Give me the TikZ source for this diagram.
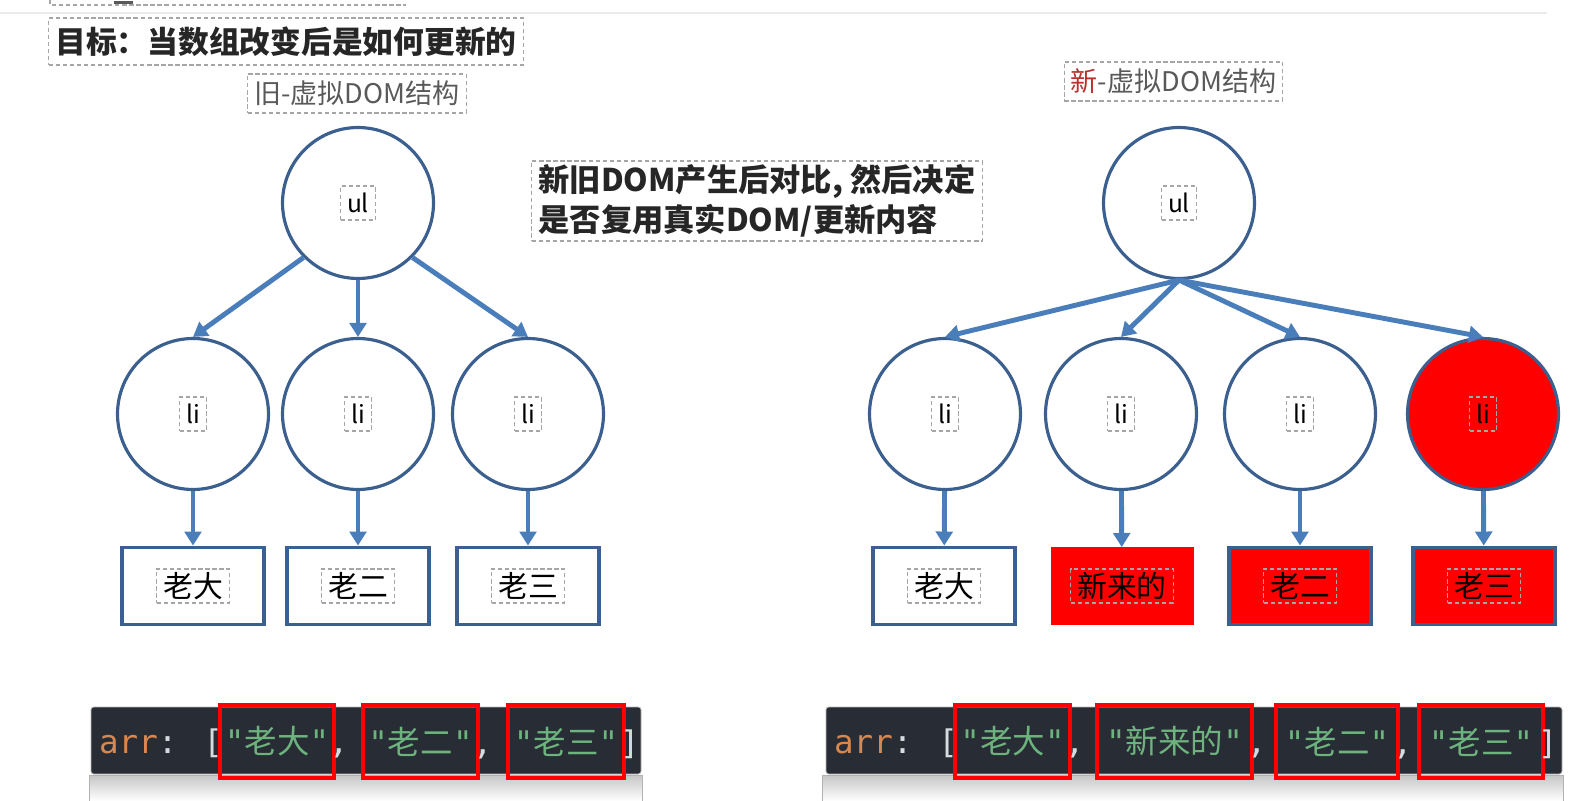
\documentclass[tikz,border=0pt]{standalone}
\usepackage{fontspec}
\usepackage{tikz}
\usetikzlibrary{positioning,arrows.meta}
\setmainfont{Noto Sans CJK SC}
\newfontfamily\monofont{DejaVu Sans Mono}
\definecolor{Rim}{HTML}{3B5F8E}
\definecolor{Link}{HTML}{4A7EBB}
\definecolor{Hot}{HTML}{FF0000}
\definecolor{Dash}{HTML}{A6A6A6}
\definecolor{Ink}{HTML}{262626}
\definecolor{Grey}{HTML}{595959}
\definecolor{NewRed}{HTML}{B8312F}
\definecolor{Editor}{HTML}{282C34}
\definecolor{KeyOr}{HTML}{D8874F}
\definecolor{StrGr}{HTML}{6DB37E}
\definecolor{Punct}{HTML}{D7DAE0}
\newcommand{\jsstr}[1]{{\monofont"}#1{\monofont"}}

\begin{document}
\begin{tikzpicture}[x=0.02cm,y=-0.02cm,
  every node/.style={font=\fontsize{14}{17}\selectfont},
  tag/.style={draw=Dash,line width=0.6pt,dash pattern=on 2.4pt off 1.6pt,
    inner xsep=0.13cm,inner ysep=0pt,minimum height=0.68cm},
  caption/.style={tag,minimum height=0.78cm,text=Grey,font=\fontsize{15.4}{18}\selectfont},
  vnode/.style={circle,draw=Rim,line width=1.8pt,minimum size=3.02cm,inner sep=0pt,
    label={[tag]center:#1}},
  leaf/.style={rectangle,draw=Rim,line width=2.2pt,minimum width=2.84cm,
    minimum height=1.54cm,inner sep=0pt,
    label={[tag,font=\fontsize{17}{20}\selectfont]center:#1}},
  hot/.style={fill=Hot},
  link/.style={draw=Link,line width=2.8pt,-{Triangle[length=8pt,width=9.5pt]}},
  strbox/.style={draw=Hot,line width=1.8pt,minimum width=#1,minimum height=1.46cm,
    inner sep=0pt,text=StrGr,font=\fontsize{18.5}{22}\selectfont},
  code/.style={inner sep=0pt,text=Punct,font=\monofont\fontsize{18.5}{22}\selectfont}]
\useasboundingbox (0,0) rectangle (1580,801);

% leftovers of the page above
\draw[Dash,line width=0.6pt,dash pattern=on 2.4pt off 1.6pt] (50,0) -- (50,5) -- (406,5);
\fill[Grey] (114,1) rectangle (133,4);
\draw[black!8,line width=0.8pt] (0,13) -- (1547,13);

\node[tag,minimum width=9.44cm,minimum height=0.94cm,text=Ink,
  font=\bfseries\fontsize{17.5}{21}\selectfont] (goal) at (286,41.5)
  {目标：当数组改变后是如何更新的};
\node[caption,minimum width=4.24cm] (oldcap) at (357,93.5) {旧-虚拟DOM结构};
\node[caption,minimum width=4.3cm] (newcap) at (1173.5,81.5)
  {\textcolor{NewRed}{新}-虚拟DOM结构};
\node[tag,minimum width=9.02cm,minimum height=1.6cm,align=left,text=Ink,
  font=\bfseries\fontsize{17.8}{22.8}\selectfont] (why) at (757,201)
  {新旧DOM产生后对比, 然后决定\\是否复用真实DOM/更新内容};

% old tree
\node[vnode=ul] (oul) at (358,203) {};
\node[vnode=li] (oli1) at (193,414) {};
\node[vnode=li] (oli2) at (358,414) {};
\node[vnode=li] (oli3) at (528,414) {};
\node[leaf=老大] (oleaf1) at (193,586) {};
\node[leaf=老二] (oleaf2) at (358,586) {};
\node[leaf=老三] (oleaf3) at (528,586) {};
\draw[link] (oul.south west) -- (oli1.north);
\draw[link] (oul.south) -- (oli2.north);
\draw[link] (oul.south east) -- (oli3.north);
\foreach \i in {1,2,3} \draw[link] (oli\i) -- (oleaf\i);

% new tree
\node[vnode=ul] (nul) at (1179,203) {};
\node[vnode=li] (nli1) at (945,414) {};
\node[vnode=li] (nli2) at (1121,414) {};
\node[vnode=li] (nli3) at (1300,414) {};
\node[vnode=li,hot] (nli4) at (1483,414) {};
\node[leaf=老大] (nleaf1) at (944,586) {};
\node[leaf=新来的,hot,draw=Hot,line width=0.5pt] (nleaf2) at (1122,586) {};
\node[leaf=老二,hot] (nleaf3) at (1300,586) {};
\node[leaf=老三,hot] (nleaf4) at (1484,586) {};
\foreach \i in {1,...,4} {
  \draw[link] (nul.south) -- (nli\i.north);
  \draw[link] (nli\i) -- (nleaf\i);
}

% the two arrays
\draw[fill=Editor,draw=gray!55,line width=0.5pt,rounded corners=1.5pt] (91,707) rectangle (641,774);
\draw[fill=Editor,draw=gray!55,line width=0.5pt,rounded corners=1.5pt] (826,707) rectangle (1562,774);
\shade[top color=gray!45,bottom color=white] (89,775) rectangle (642,801);
\shade[top color=gray!45,bottom color=white] (822,775) rectangle (1563,801);
\draw[gray!60,line width=0.5pt] (89,801) -- (89,775) -- (642,775) -- (642,801);
\draw[gray!60,line width=0.5pt] (822,801) -- (822,775) -- (1563,775) -- (1563,801);

\node[strbox=2.28cm] (os1) at (277,741.5) {\jsstr{老大}};
\node[strbox=2.3cm] (os2) at (420.5,741.5) {\jsstr{老二}};
\node[strbox=2.32cm] (os3) at (566,741.5) {\jsstr{老三}};
\node[code,anchor=base east] (oarr) at ([xshift=0.1cm]os1.base west)
  {\textcolor{KeyOr}{arr}: [};
\node[code,anchor=base west] at ([xshift=-0.14cm]os1.base east) {,};
\node[code,anchor=base west] at ([xshift=-0.14cm]os2.base east) {,};
\node[code,anchor=base west] at ([xshift=-0.12cm]os3.base east) {]};

\node[strbox=2.3cm] (ns1) at (1012.5,741.5) {\jsstr{老大}};
\node[strbox=3.1cm] (ns2) at (1174.5,741.5) {\jsstr{新来的}};
\node[strbox=2.44cm] (ns3) at (1337,741.5) {\jsstr{老二}};
\node[strbox=2.48cm] (ns4) at (1481,741.5) {\jsstr{老三}};
\node[code,anchor=base east] (narr) at ([xshift=0.1cm]ns1.base west)
  {\textcolor{KeyOr}{arr}: [};
\node[code,anchor=base west] at ([xshift=-0.14cm]ns1.base east) {,};
\node[code,anchor=base west] at ([xshift=-0.14cm]ns2.base east) {,};
\node[code,anchor=base west] at ([xshift=-0.14cm]ns3.base east) {,};
\node[code,anchor=base west] at ([xshift=-0.14cm]ns4.base east) {]};
\end{tikzpicture}
\end{document}
